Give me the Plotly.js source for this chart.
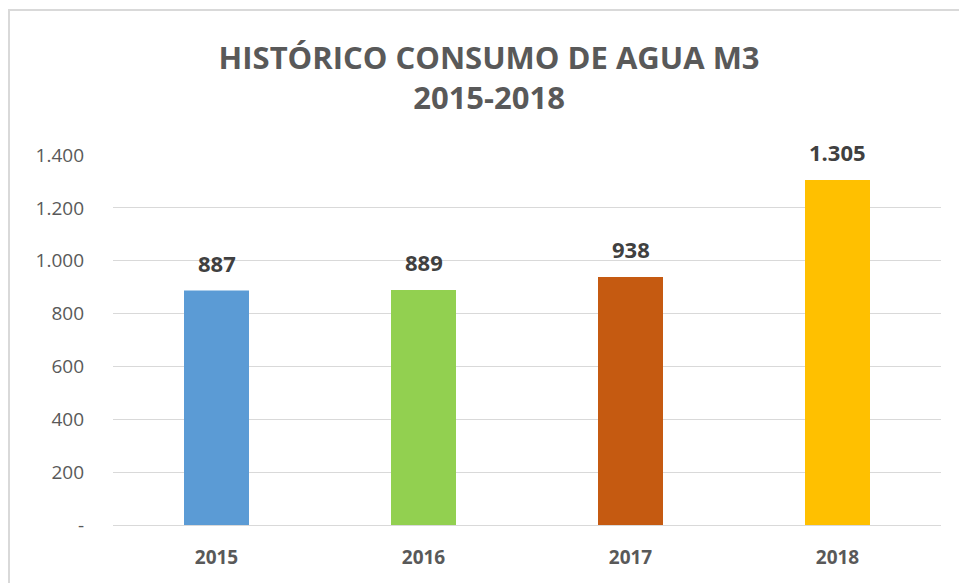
<!DOCTYPE html>
<html>
<head>
<meta charset="utf-8">
<script src="https://cdn.plot.ly/plotly-3.0.1.min.js"></script>
<style>
  html, body { margin: 0; padding: 0; background: #ffffff; }
  #wrap { position: relative; width: 959px; height: 583px; overflow: hidden; }
  #chart { position: absolute; left: 0; top: 0; width: 959px; height: 583px; }
  #frame { position: absolute; left: 8px; top: 9px; width: 970px; height: 600px;
           border: 2px solid #d9d9d9; box-sizing: border-box; pointer-events: none; }
</style>
</head>
<body>
<div id="wrap">
  <div id="chart"></div>
  <div id="frame"></div>
</div>
<script>
const categories = ["2015", "2016", "2017", "2018"];
const values = [887, 889, 938, 1305];
const valueLabels = ["887", "889", "938", "1.305"];
const barColors = ["#5B9BD5", "#92D050", "#C55A11", "#FFC000"];
const yTickVals = [0, 200, 400, 600, 800, 1000, 1200, 1400];
const yTickText = ["-", "200", "400", "600", "800", "1.000", "1.200", "1.400"];
const titleText = "HISTÓRICO CONSUMO DE AGUA M3<br>2015-2018";

const FONT = "Open Sans, Liberation Sans, sans-serif";

const trace = {
  type: "bar",
  x: categories,
  y: values,
  marker: { color: barColors, line: { width: 0 } },
  hoverinfo: "none"
};

const annotations = categories.map((c, i) => ({
  x: i, y: values[i], xref: "x", yref: "y",
  text: "<b>" + valueLabels[i] + "</b>",
  showarrow: false, yanchor: "bottom", yshift: 11,
  font: { family: FONT, size: 22, color: "#404040" }
}));

const layout = {
  width: 959, height: 583,
  margin: { l: 113, r: 18, t: 155, b: 58 },
  paper_bgcolor: "#ffffff", plot_bgcolor: "#ffffff",
  showlegend: false,
  bargap: 0.686,
  title: {
    text: "<b>" + titleText + "</b>",
    x: 0.51, xanchor: "center", xref: "container",
    y: 0.882, yanchor: "top", yref: "container",
    font: { family: FONT, size: 31, color: "#595959" }
  },
  xaxis: {
    type: "category",
    range: [-0.5, 3.5], autorange: false,
    tickfont: { family: FONT, size: 19, color: "#595959", weight: "bold" },
    showgrid: false, zeroline: false, showline: false, ticks: "",
    ticklabelstandoff: 19
  },
  yaxis: {
    range: [0, 1400], autorange: false,
    tickvals: yTickVals, ticktext: yTickText,
    tickfont: { family: FONT, size: 19, color: "#595959" },
    showgrid: true, gridcolor: "#d9d9d9", gridwidth: 1,
    zeroline: true, zerolinecolor: "#d9d9d9", zerolinewidth: 1,
    showline: false, ticks: "",
    ticklabelstandoff: 28
  },
  annotations: annotations
};

Plotly.newPlot("chart", [trace], layout, { displayModeBar: false, staticPlot: true });
</script>
</body>
</html>
